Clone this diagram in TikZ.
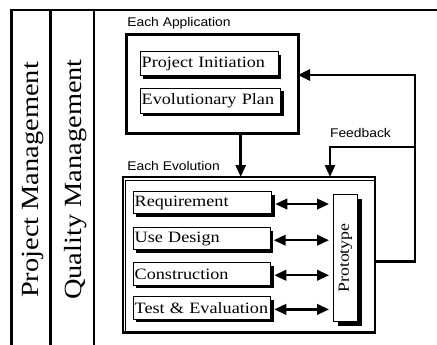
\documentclass[tikz,border=0pt]{standalone}
\usepackage{fontspec}
\setmainfont{Liberation Serif}[FakeStretch=1.15]
\newfontfamily\lblsans{Liberation Sans}[FakeStretch=1.1]
\usetikzlibrary{arrows.meta,shadows,calc}
\begin{document}
\begin{tikzpicture}[x=1pt,y=-1pt,
  every node/.style={outer sep=0pt},
  frameline/.style={line width=2.5pt},
  bigbox/.style={draw, line width=3pt, anchor=north west, inner sep=0pt},
  shad/.style={drop shadow={shadow xshift=#1,shadow yshift=-#1,fill=black,opacity=1}},
  stagebox/.style={draw, fill=white, line width=1pt, anchor=north west,
    inner xsep=1.5pt, inner ysep=0pt, align=left, shad=3.2pt,
    font=\fontsize{15.8}{18}\selectfont},
  sidelabel/.style={rotate=90, anchor=base, font=\fontsize{24.7}{27}\selectfont},
  sanslabel/.style={anchor=base west, font=\lblsans\fontsize{12.6}{14}\selectfont},
  arr/.style={line width=2.6pt, -{Triangle[length=12pt,width=10pt]}},
  dblarr/.style={line width=2.4pt, {Triangle[length=12pt,width=10.5pt]}-{Triangle[length=12pt,width=10.5pt]}}
]
\useasboundingbox (0,0) rectangle (437,345);
\fill[white] (0,0) rectangle (437,345);

% frame
\draw[frameline] (11.7,345) -- (11.7,10.2) -- (437,10.2);
\draw[frameline] (50.5,10.2) -- (50.5,345);
\draw[frameline] (93.8,10.2) -- (93.8,345);

\node[sidelabel] (pm) at (38.5,180) {Project Management};
\node[sidelabel] (qm) at (81,179.5) {Quality Management};

% application box
\node[sanslabel] (applbl) at (124,27) {Each Application};
\node[bigbox, minimum width=171.3pt, minimum height=99.5pt] (app) at (126.7,34.2) {};
\node[stagebox, text width=135pt, minimum height=24.3pt] (init) at (140.2,51.5) {Project Initiation};
\node[stagebox, text width=137.6pt, minimum height=25pt] (plan) at (140.2,88.2) {Evolutionary Plan};

% evolution box
\node[sanslabel] (evolbl) at (124,170) {Each Evolution};
\node[bigbox, line width=2.8pt, minimum width=252pt, minimum height=155.3pt] (evo) at (123,177) {};
\draw[line width=1pt] ($(evo.south west)+(2.8,0)$) |- ($(evo.north east)+(0,3.6)$);

\node[stagebox, text width=135.6pt, minimum height=21.7pt] (req) at (133.2,191.8) {Requirement};
\node[stagebox, text width=134pt, minimum height=22pt] (use) at (133.2,227.8) {Use Design};
\node[stagebox, text width=134.6pt, minimum height=22.7pt] (con) at (133.2,262.5) {Construction};
\node[stagebox, text width=134.6pt, minimum height=22.4pt] (tst) at (133.2,296.8) {Test \& Evaluation};

\node[draw, fill=white, line width=1pt, anchor=north west, inner sep=0pt,
  minimum width=24pt, minimum height=127.6pt, shad=4.5pt,
  font=\fontsize{15.5}{18}\selectfont] (proto) at (333.5,194.2) {\rotatebox{90}{Prototype}};

% double arrows
\foreach \b in {req,use,con,tst}{
  \draw[dblarr, shorten <=3.5pt, shorten >=4.5pt] ($(\b.east)+(0,1.4)$) -- ($(proto.west |- \b.east)+(0,1.4)$);
}

% application -> evolution
\coordinate (down) at (240.7,0);
\draw[arr] (app.south -| down) -- (evo.north -| down);

% feedback
\coordinate (fbTop) at (415,75);
\coordinate (fbMid) at (415,147);
\coordinate (fbBot) at (415,261.7);
\coordinate (fbIn) at (330,147);
\draw[line width=2.8pt, -{Triangle[length=12pt,width=11pt]}, line join=miter]
  (evo.east |- fbBot) -- (fbBot) -- (fbTop) -- (app.east |- fbTop);
\draw[arr, line join=miter] (fbMid) -- (fbIn) -- (evo.north -| fbIn);
\node[sanslabel] (fblbl) at (326.7,138) {Feedback};
\end{tikzpicture}
\end{document}
